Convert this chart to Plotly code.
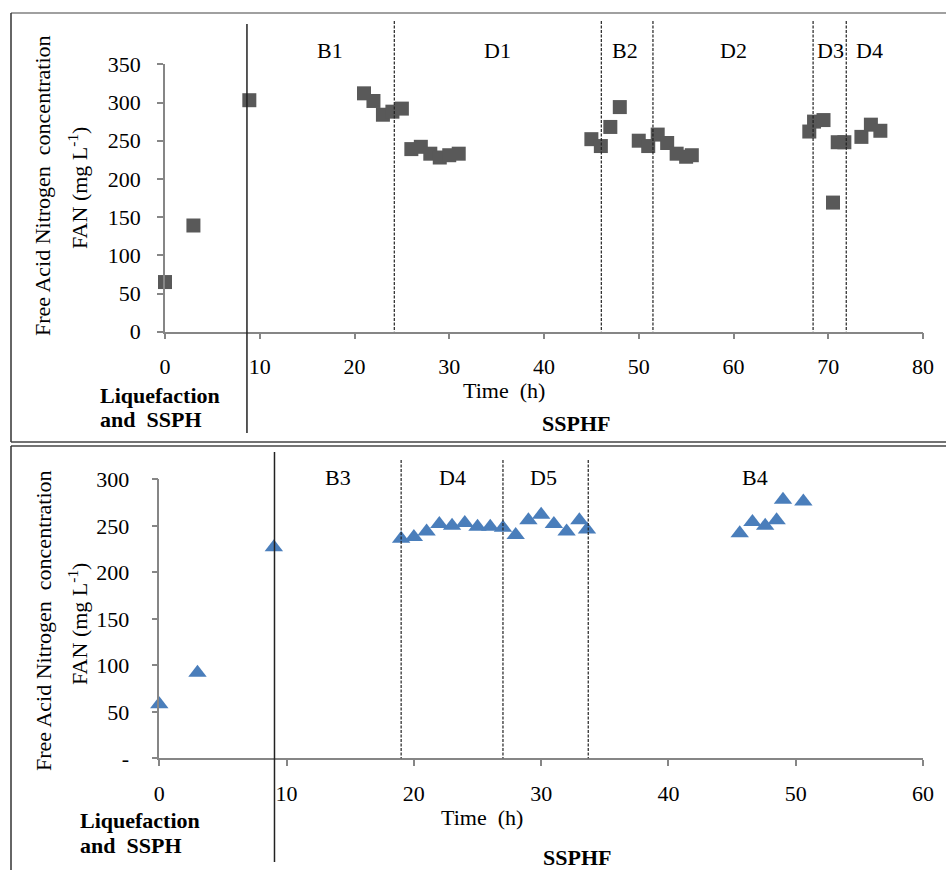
import plotly.graph_objects as go

# ---------------- data ----------------
# Top panel (squares)
top_time = [0, 3, 8.9, 21, 22, 23, 24, 25, 26, 27, 28, 29, 30, 31,
            45, 46, 47, 48, 50, 51, 52, 53, 54, 55, 55.6,
            68, 68.5, 69.5, 70.5, 71, 71.7, 73.5, 74.5, 75.5]
top_fan = [65, 139, 303, 312, 302, 284, 288, 292, 239, 242, 233, 228, 231, 233,
           252, 243, 268, 294, 250, 243, 258, 247, 233, 229, 231,
           262, 275, 277, 169, 248, 248, 255, 271, 263]
top_solid = [8.65]
top_dashed = [24.2, 46.05, 51.5, 68.4, 71.9]
top_phase_labels = ["B1", "D1", "B2", "D2", "D3", "D4"]
top_phase_x = [17.4, 35.1, 48.55, 60.05, 70.2, 74.4]
top_yticks = [0, 50, 100, 150, 200, 250, 300, 350]
top_xticks = [0, 10, 20, 30, 40, 50, 60, 70, 80]

# Bottom panel (triangles)
bot_time = [0, 3, 9, 19, 20, 21, 22, 23, 24, 25, 26, 27, 28, 29, 30, 31, 32, 33, 33.6,
            45.6, 46.6, 47.6, 48.5, 49, 50.6]
bot_fan = [58, 92, 227, 236, 238, 244, 252, 250, 253, 249, 249, 248, 240, 256, 262, 252, 244, 256, 246,
           242, 254, 250, 256, 278, 276]
bot_solid = [9.05]
bot_dashed = [19, 27, 33.7]
bot_phase_labels = ["B3", "D4", "D5", "B4"]
bot_phase_x = [14.0, 23.05, 30.2, 46.8]
bot_yticks = [0, 50, 100, 150, 200, 250, 300]
bot_yticktext = ["-", "50", "100", "150", "200", "250", "300"]
bot_xticks = [0, 10, 20, 30, 40, 50, 60]

# ---------------- figure ----------------
W, H = 946, 870
FONT = "Liberation Serif"
AXC = "#868686"


def px(x):
    return x / W


def py(y):
    return 1 - y / H


fig = go.Figure()
fig.add_trace(go.Scatter(x=top_time, y=top_fan, mode="markers", xaxis="x", yaxis="y",
                         marker=dict(symbol="square", size=14, color="#595959"),
                         showlegend=False, cliponaxis=False))
fig.add_trace(go.Scatter(x=bot_time, y=bot_fan, mode="markers", xaxis="x2", yaxis="y2",
                         marker=dict(symbol="triangle-up", size=16, color="#4a7ebb"),
                         showlegend=False, cliponaxis=False))

axis_common = dict(showgrid=False, zeroline=False, showline=True, linecolor=AXC, linewidth=1.5,
                   ticks="outside", ticklen=6, tickcolor=AXC, tickwidth=1.5, automargin=False,
                   tickfont=dict(family=FONT, size=22, color="#000"), fixedrange=True)

fig.update_layout(
    width=W, height=H, margin=dict(l=0, r=0, t=0, b=0, pad=0, autoexpand=False),
    paper_bgcolor="white", plot_bgcolor="white",
    xaxis=dict(domain=[px(165), px(923)], range=[0, 80], tickvals=top_xticks,
               anchor="y", ticklabelstandoff=8, **axis_common),
    yaxis=dict(domain=[py(331.7), py(64.3)], range=[0, 350], tickvals=top_yticks,
               anchor="x", ticklabelstandoff=12, **axis_common),
    xaxis2=dict(domain=[px(159.3), px(923)], range=[0, 60], tickvals=bot_xticks,
                anchor="y2", ticklabelstandoff=9, **axis_common),
    yaxis2=dict(domain=[py(758.3), py(479.3)], range=[0, 300], tickvals=bot_yticks,
                ticktext=bot_yticktext, anchor="x2", ticklabelstandoff=18, **axis_common),
)

shapes = []
# panel frames
shapes.append(dict(type="line", xref="paper", yref="paper", x0=px(11), x1=1, y0=py(13), y1=py(13),
                   line=dict(color="#808080", width=1.5)))
shapes.append(dict(type="line", xref="paper", yref="paper", x0=px(11), x1=px(11), y0=py(13), y1=py(442),
                   line=dict(color="#333", width=1.5)))
shapes.append(dict(type="line", xref="paper", yref="paper", x0=px(11), x1=1, y0=py(442), y1=py(442),
                   line=dict(color="#444", width=1.5)))
shapes.append(dict(type="line", xref="paper", yref="paper", x0=px(11), x1=1, y0=py(446), y1=py(446),
                   line=dict(color="#444", width=1.5)))
shapes.append(dict(type="line", xref="paper", yref="paper", x0=px(11), x1=px(11), y0=py(446), y1=0,
                   line=dict(color="#333", width=1.5)))

for xv in top_solid:
    shapes.append(dict(type="line", xref="x", yref="paper", x0=xv, x1=xv, y0=py(24), y1=py(433),
                       line=dict(color="#222", width=1.5)))
for xv in top_dashed:
    shapes.append(dict(type="line", xref="x", yref="paper", x0=xv, x1=xv, y0=py(21), y1=py(331.7),
                       line=dict(color="#222", width=1.2, dash="3px,1.5px")))
for xv in bot_solid:
    shapes.append(dict(type="line", xref="x2", yref="paper", x0=xv, x1=xv, y0=py(452), y1=py(862),
                       line=dict(color="#222", width=1.5)))
for xv in bot_dashed:
    shapes.append(dict(type="line", xref="x2", yref="paper", x0=xv, x1=xv, y0=py(460), y1=py(758.3),
                       line=dict(color="#222", width=1.2, dash="3px,1.5px")))
fig.update_layout(shapes=shapes)

ann = []
tf = dict(family=FONT, size=22, color="#000")
bf = dict(family=FONT, size=22, color="#000", weight="bold")
for lab, xv in zip(top_phase_labels, top_phase_x):
    ann.append(dict(text=lab, x=xv, xref="x", y=py(50), yref="paper", showarrow=False, font=tf,
                    xanchor="center", yanchor="middle"))
for lab, xv in zip(bot_phase_labels, bot_phase_x):
    ann.append(dict(text=lab, x=xv, xref="x2", y=py(477), yref="paper", showarrow=False, font=tf,
                    xanchor="center", yanchor="middle"))

# y titles
for cy1, cy2 in [(186, 188), (621, 624)]:
    ann.append(dict(text="Free Acid Nitrogen  concentration", x=px(43), y=py(cy1), xref="paper", yref="paper",
                    showarrow=False, textangle=-90, font=tf, xanchor="center", yanchor="middle"))
    ann.append(dict(text="FAN (mg L<sup>-1</sup>)", x=px(78), y=py(cy2), xref="paper", yref="paper",
                    showarrow=False, textangle=-90, font=tf, xanchor="center", yanchor="middle"))

# x titles
ann.append(dict(text="Time  (h)", x=px(504), y=py(390), xref="paper", yref="paper", showarrow=False,
                font=tf, xanchor="center", yanchor="middle"))
ann.append(dict(text="Time  (h)", x=px(482), y=py(817), xref="paper", yref="paper", showarrow=False,
                font=tf, xanchor="center", yanchor="middle"))

# phase region labels
ann.append(dict(text="SSPHF", x=px(576), y=py(423), xref="paper", yref="paper", showarrow=False,
                font=bf, xanchor="center", yanchor="middle"))
ann.append(dict(text="SSPHF", x=px(577), y=py(857), xref="paper", yref="paper", showarrow=False,
                font=bf, xanchor="center", yanchor="middle"))
for x0, y1, y2 in [(98, 395, 419), (78, 820, 845)]:
    ann.append(dict(text="Liquefaction", x=px(x0), y=py(y1), xref="paper", yref="paper", showarrow=False,
                    font=bf, xanchor="left", yanchor="middle"))
    ann.append(dict(text="and  SSPH", x=px(x0), y=py(y2), xref="paper", yref="paper", showarrow=False,
                    font=bf, xanchor="left", yanchor="middle"))
fig.update_layout(annotations=ann)

fig.write_html("out.html", config={"displayModeBar": False},
               post_script="document.body.style.margin='0';document.body.style.padding='0';"
                           "document.documentElement.style.overflow='hidden';")
